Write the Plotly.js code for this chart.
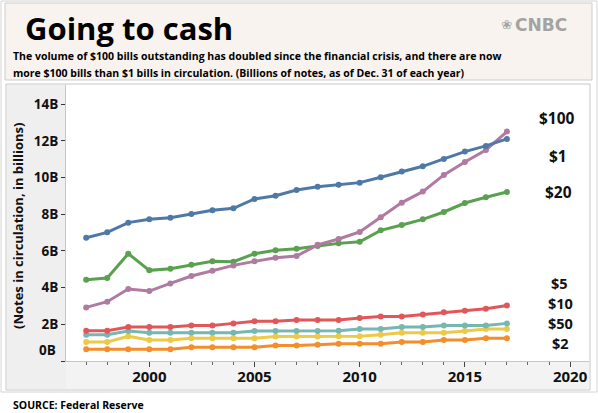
<!DOCTYPE html>
<html>
<head>
<meta charset="utf-8">
<script src="https://cdn.plot.ly/plotly-3.0.1.min.js"></script>
<style>
html,body{margin:0;padding:0;background:#fff;}
#chart{width:598px;height:413px;}
</style>
</head>
<body>
<div id="chart"></div>
<script>
// ---- data ----
const years = [1997,1998,1999,2000,2001,2002,2003,2004,2005,2006,2007,2008,2009,2010,2011,2012,2013,2014,2015,2016,2017];
const notes1   = [6.72,7.01,7.54,7.72,7.81,8.01,8.21,8.32,8.83,9.01,9.32,9.50,9.61,9.72,10.01,10.32,10.61,11.01,11.41,11.72,12.10];
const notes20  = [4.43,4.52,5.85,4.94,5.03,5.25,5.43,5.41,5.85,6.03,6.12,6.27,6.41,6.50,7.12,7.41,7.72,8.12,8.61,8.92,9.21];
const notes100 = [2.92,3.23,3.92,3.81,4.23,4.63,4.92,5.21,5.43,5.63,5.72,6.33,6.65,7.03,7.83,8.63,9.23,10.14,10.84,11.50,12.50];
const notes5   = [1.65,1.65,1.85,1.85,1.85,1.94,1.94,2.05,2.16,2.16,2.23,2.23,2.23,2.34,2.43,2.43,2.54,2.65,2.74,2.85,3.03];
const notes10  = [1.43,1.43,1.63,1.54,1.54,1.54,1.54,1.54,1.63,1.63,1.63,1.63,1.65,1.74,1.74,1.85,1.85,1.94,1.94,1.94,2.05];
const notes50  = [1.04,1.04,1.35,1.14,1.14,1.24,1.24,1.24,1.24,1.33,1.33,1.33,1.35,1.35,1.43,1.54,1.54,1.54,1.63,1.74,1.74];
const notes2   = [0.64,0.64,0.64,0.64,0.64,0.75,0.75,0.75,0.75,0.84,0.84,0.89,0.94,0.94,0.94,1.04,1.04,1.14,1.14,1.24,1.24];
const yTickVals = [0,2,4,6,8,10,12,14];
const yTickText = ['','2B','4B','6B','8B','10B','12B','14B'];
const xTickVals = [2000,2005,2010,2015,2020];
const seriesLabels = ['$100','$1','$20','$5','$10','$50','$2'];

// ---- helpers (pixel -> paper) ----
const L=66, R=589, T=85, B=361;
const px = x => (x-L)/(R-L);
const py = y => (B-y)/(B-T);
const FONT = 'Open Sans, DejaVu Sans, sans-serif';

function series(y, color){
  return {x: years, y: y, type:'scatter', mode:'lines+markers',
    line:{color:color, width:3}, marker:{color:color, size:6}, hoverinfo:'skip'};
}
const data = [
  series(notes2,'#f28e2b'),
  series(notes50,'#edc948'),
  series(notes10,'#76b7b2'),
  series(notes5,'#e15759'),
  series(notes20,'#59a14f'),
  series(notes100,'#b07aa1'),
  series(notes1,'#4e79a7')
];

const labelPos = [[557,118],[558,156],[558,192],[559,283],[560,303.5],[560,323.5],[560,343]];
const annotations = seriesLabels.map((t,i)=>({
  text:t, xref:'paper', yref:'paper', x:px(labelPos[i][0]), y:py(labelPos[i][1]),
  xanchor:'center', yanchor:'middle', showarrow:false,
  font:{family:FONT, size:i<3?15.5:14.5, color:'#111', weight:700}
}));
annotations.push(
  {text:'Going to cash', xref:'paper', yref:'paper', x:px(23), y:py(28), xanchor:'left', yanchor:'middle', showarrow:false,
   font:{family:FONT, size:31, color:'#000', weight:700}},
  {text:'The volume of $100 bills outstanding has doubled since the financial crisis, and there are now', xref:'paper', yref:'paper', x:px(11), y:py(56), xanchor:'left', yanchor:'middle', showarrow:false,
   font:{family:FONT, size:10.5, color:'#000', weight:700}},
  {text:'more $100 bills than $1 bills in circulation. (Billions of notes, as of Dec. 31 of each year)', xref:'paper', yref:'paper', x:px(11), y:py(73), xanchor:'left', yanchor:'middle', showarrow:false,
   font:{family:FONT, size:10.5, color:'#000', weight:700}},
  {text:'CNBC', xref:'paper', yref:'paper', x:px(569), y:py(25), xanchor:'right', yanchor:'middle', showarrow:false,
   font:{family:'DejaVu Sans, sans-serif', size:17, color:'#a3a3a3', weight:700}},
  {text:'❀', xref:'paper', yref:'paper', x:px(506), y:py(25), xanchor:'center', yanchor:'middle', showarrow:false,
   font:{family:'DejaVu Sans, sans-serif', size:13, color:'#a3a3a3'}},
  {text:'(Notes in circulation, in billions)', xref:'paper', yref:'paper', x:px(18), y:py(226), xanchor:'center', yanchor:'middle', showarrow:false, textangle:-90,
   font:{family:FONT, size:13, color:'#111', weight:700}},
  {text:'0B', xref:'paper', yref:'paper', x:px(58), y:py(350), xanchor:'right', yanchor:'middle', showarrow:false,
   font:{family:FONT, size:13.5, color:'#111', weight:700}},
  {text:'SOURCE: Federal Reserve', xref:'paper', yref:'paper', x:px(11), y:py(405), xanchor:'left', yanchor:'middle', showarrow:false,
   font:{family:FONT, size:10.5, color:'#000', weight:700}}
);

function rect(x0,y0,x1,y1,fill,line,layer){
  return {type:'rect', xref:'paper', yref:'paper', x0:px(x0), x1:px(x1), y0:py(y1), y1:py(y0),
    fillcolor:fill, line:{color:line||'rgba(0,0,0,0)', width:line?1:0}, layer:layer||'below'};
}
const shapes = [
  rect(1,1,597,392,'rgba(0,0,0,0)','#d4d4d4','below'),
  rect(5,3,592,80,'#f8f3ef','#cccccc','below'),
  rect(7,85,66,389,'#efefef',null,'below'),
  rect(66,361,589,389,'#f3f3f3',null,'below'),
  rect(6,84,590,390,'rgba(0,0,0,0)','#c6c6c6','above')
];

const layout = {
  width:598, height:413,
  margin:{l:L, r:598-R, t:T, b:413-B, pad:0},
  paper_bgcolor:'#ffffff', plot_bgcolor:'#ffffff',
  showlegend:false,
  font:{family:FONT, color:'#111'},
  xaxis:{range:[1996.04,2020.9], tickvals:xTickVals, ticktext:xTickVals.map(String),
    ticks:'outside', ticklen:5, tickcolor:'#444', tickwidth:1, ticklabelstandoff:-3,
    minor:{dtick:1, tick0:2000, ticks:'outside', ticklen:3, tickcolor:'#666'},
    showgrid:false, zeroline:false, showline:true, linecolor:'#c6c6c6', linewidth:1,
    tickfont:{family:FONT, size:15, color:'#111', weight:700}, fixedrange:true},
  yaxis:{range:[0,15.04], tickvals:yTickVals, ticktext:yTickText,
    ticks:'outside', ticklen:4, tickcolor:'#333', tickwidth:1,
    showgrid:false, zeroline:false, showline:true, linecolor:'#c6c6c6', linewidth:1,
    tickfont:{family:FONT, size:13.5, color:'#111', weight:700}, fixedrange:true},
  shapes:shapes,
  annotations:annotations
};
Plotly.newPlot('chart', data, layout, {staticPlot:true, displayModeBar:false});
</script>
</body>
</html>
